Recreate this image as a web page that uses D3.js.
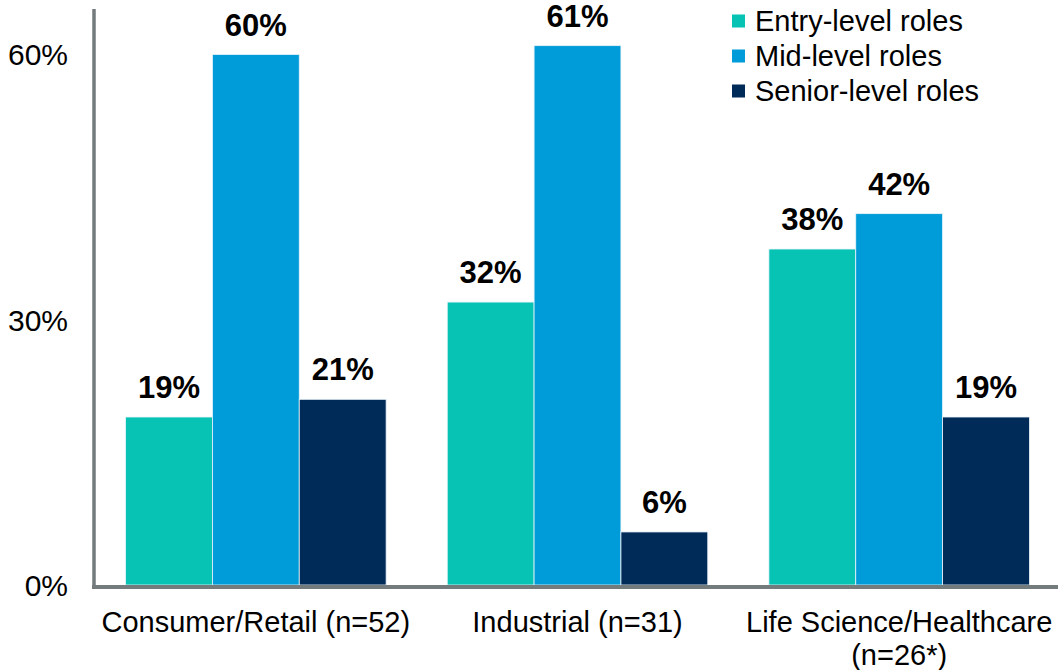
<!DOCTYPE html>
<html>
<head>
<meta charset="utf-8">
<script src="https://cdn.jsdelivr.net/npm/d3@7"></script>
<style>
  html, body { margin: 0; padding: 0; background: #ffffff; }
  svg { display: block; font-family: "Liberation Sans", Arial, sans-serif; }
</style>
</head>
<body>
<svg id="chart" width="1058" height="670"></svg>
<script>
// Share of hires by role level, per sector
const categories = ["Consumer/Retail (n=52)", "Industrial (n=31)", "Life Science/Healthcare (n=26*)"];
const categoryLines = [["Consumer/Retail (n=52)"], ["Industrial (n=31)"], ["Life Science/Healthcare", "(n=26*)"]];
const seriesNames = ["Entry-level roles", "Mid-level roles", "Senior-level roles"];
const entryLevel = [19, 32, 38];
const midLevel = [60, 61, 42];
const seniorLevel = [21, 6, 19];
const yTicks = [0, 30, 60];
const colors = ["#07c3b3", "#009cd9", "#002a58"];

const seriesValues = [entryLevel, midLevel, seniorLevel];

const svg = d3.select("#chart");

const x0 = d3.scaleBand()
  .domain(categories)
  .range([95, 1060])
  .paddingInner(0.19)
  .paddingOuter(0.095);

const x1 = d3.scaleBand()
  .domain(seriesNames)
  .range([0, x0.bandwidth()])
  .padding(0);

const y = d3.scaleLinear().domain([0, 60]).range([585, 54.5]);

// Bars with value labels
categories.forEach((cat, ci) => {
  const g = svg.append("g").attr("transform", `translate(${x0(cat)},0)`);
  seriesNames.forEach((s, si) => {
    const v = seriesValues[si][ci];
    g.append("rect")
      .attr("x", x1(s))
      .attr("y", y(v))
      .attr("width", x1.bandwidth())
      .attr("height", y(0) - y(v))
      .attr("fill", colors[si])
      .attr("stroke", "#eaf4fb")
      .attr("stroke-width", 0.8);
    g.append("text")
      .attr("x", x1(s) + x1.bandwidth() / 2)
      .attr("y", y(v) - 19)
      .attr("text-anchor", "middle")
      .attr("font-size", 31)
      .attr("font-weight", "bold")
      .attr("fill", "#000")
      .text(v + "%");
  });
});

// Axis lines
svg.append("line")
  .attr("x1", 94).attr("x2", 94)
  .attr("y1", 9).attr("y2", 589)
  .attr("stroke", "#737b7c").attr("stroke-width", 3.5);
svg.append("line")
  .attr("x1", 92).attr("x2", 1058)
  .attr("y1", 587).attr("y2", 587)
  .attr("stroke", "#737b7c").attr("stroke-width", 4);

// Y tick labels
svg.append("g").selectAll("text")
  .data(yTicks)
  .join("text")
  .attr("x", 68)
  .attr("y", d => y(d))
  .attr("dy", "0.36em")
  .attr("text-anchor", "end")
  .attr("font-size", 30)
  .attr("fill", "#000")
  .text(d => d + "%");

// Category labels
categories.forEach((cat, ci) => {
  const t = svg.append("text")
    .attr("text-anchor", "middle")
    .attr("font-size", 29)
    .attr("fill", "#000");
  categoryLines[ci].forEach((line, li) => {
    t.append("tspan")
      .attr("x", x0(cat) + x0.bandwidth() / 2)
      .attr("y", 632 + li * 33)
      .text(line);
  });
});

// Legend
const legend = svg.append("g");
seriesNames.forEach((s, i) => {
  const cy = 21 + i * 35;
  legend.append("rect")
    .attr("x", 732).attr("y", cy - 6.5)
    .attr("width", 13).attr("height", 13)
    .attr("fill", colors[i]);
  legend.append("text")
    .attr("x", 755).attr("y", cy)
    .attr("dy", "0.36em")
    .attr("font-size", 29)
    .attr("fill", "#000")
    .text(s);
});
</script>
</body>
</html>
